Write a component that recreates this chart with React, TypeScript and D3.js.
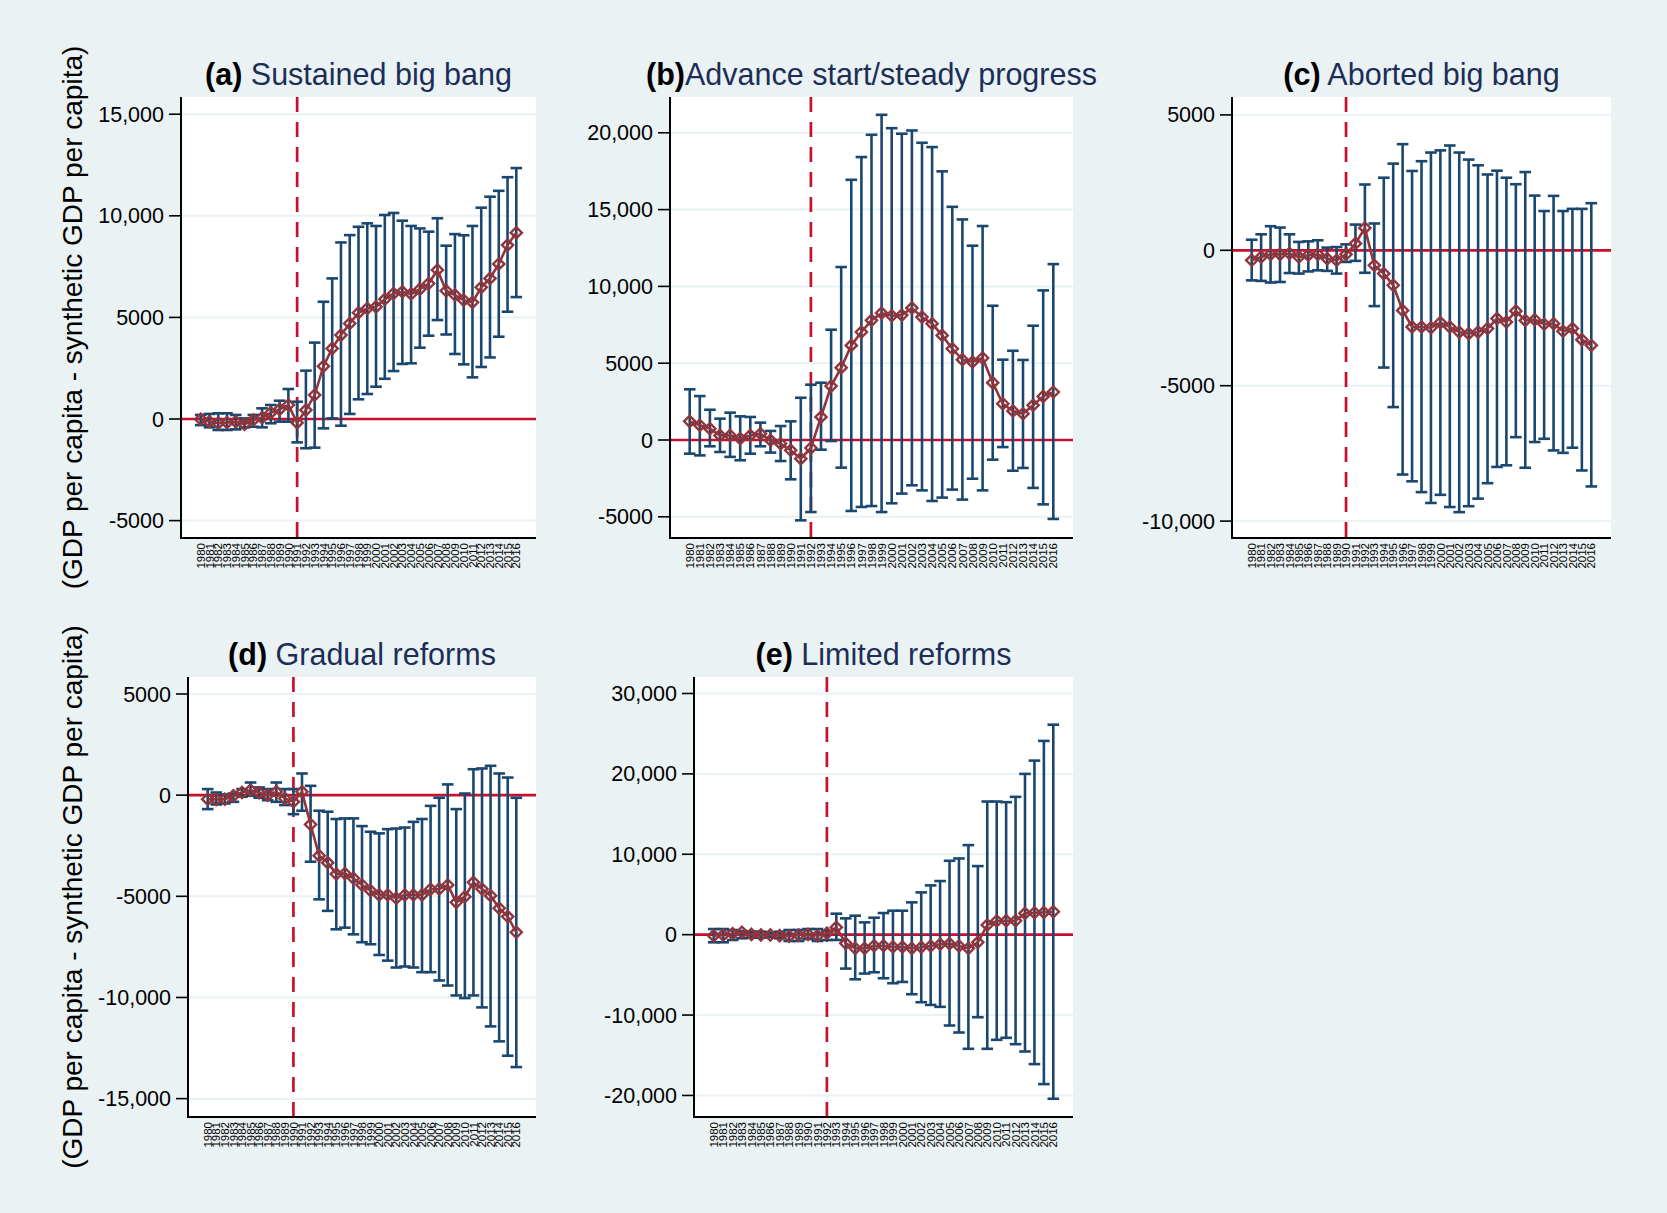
import * as d3 from 'd3';
import { useEffect, useRef } from 'react';

// years on the x axis
const years = [1980, 1981, 1982, 1983, 1984, 1985, 1986, 1987, 1988, 1989, 1990, 1991, 1992,
    1993, 1994, 1995, 1996, 1997, 1998, 1999, 2000, 2001, 2002, 2003, 2004, 2005, 2006, 2007,
    2008, 2009, 2010, 2011, 2012, 2013, 2014, 2015, 2016];

// (a) Sustained big bang
const aEst = [-15, -130, -210, -180, -130, -260, -50, 65, 310, 475, 690, -180, 440, 1180, 2600, 3475, 4130, 4700, 5230, 5440, 5520, 5890, 6180, 6260, 6150, 6390, 6670, 7330, 6310, 6100, 5850, 5740, 6480, 6920, 7630, 8560, 9170];
const aHi = [200, 250, 280, 280, 200, 30, 200, 525, 690, 900, 1475, 850, 2380, 3760, 5770, 6920, 8690, 9050, 9460, 9630, 9500, 10040, 10140, 9760, 9500, 9380, 9220, 9880, 8530, 9100, 9040, 9500, 10400, 10940, 11230, 11900, 12350];
const aLo = [-300, -410, -540, -540, -510, -410, -380, -410, -210, -130, -130, -1150, -1440, -1410, -460, 30, -330, 250, 970, 1230, 1590, 1980, 2360, 2710, 2740, 3510, 4100, 4870, 4160, 3200, 2690, 2050, 2560, 3030, 4050, 5280, 6000];

// (b) Advance start/steady progress
const bEst = [1215, 955, 740, 300, 300, 90, 300, 410, -20, -240, -670, -1215, -520, 1500, 3510, 4710, 6160, 7030, 7790, 8260, 8090, 8130, 8590, 8000, 7570, 6810, 5940, 5230, 5080, 5340, 3730, 2360, 1890, 1710, 2260, 2840, 3120];
const bHi = [3300, 2860, 1970, 1390, 1780, 1540, 1500, 1130, 590, 910, 1215, 2750, 3600, 3730, 7180, 11260, 16940, 18420, 19870, 21170, 20300, 19940, 20150, 19350, 19070, 17490, 15180, 14360, 12650, 13930, 8740, 5230, 5810, 5210, 7440, 9740, 11450];
const bLo = [-890, -1000, -410, -780, -1100, -1320, -890, -410, -820, -1370, -2560, -5230, -4690, -630, -65, -1800, -4620, -4360, -4300, -4690, -4120, -3490, -2950, -3280, -3970, -3750, -3230, -3880, -2520, -3280, -1280, -460, -2000, -1820, -3120, -4190, -5140];

// (c) Aborted big bang
const cEst = [-370, -250, -150, -150, -120, -250, -180, -150, -310, -370, -150, 250, 825, -555, -860, -1290, -2220, -2830, -2830, -2860, -2670, -2830, -3020, -3080, -3020, -2890, -2520, -2650, -2240, -2590, -2560, -2730, -2710, -2990, -2890, -3300, -3510];
const cHi = [390, 590, 890, 840, 590, 310, 330, 370, 100, 120, 220, 950, 2430, 990, 2680, 3200, 3920, 2930, 3290, 3610, 3690, 3870, 3610, 3350, 3140, 2800, 2940, 2680, 2440, 2890, 2020, 1450, 2010, 1450, 1530, 1530, 1740];
const cLo = [-1110, -1130, -1190, -1170, -840, -860, -780, -740, -760, -860, -430, -390, -830, -2060, -4330, -5790, -8280, -8530, -8930, -9330, -9030, -9480, -9670, -9450, -9170, -8600, -8000, -7940, -6900, -8030, -7080, -6960, -7390, -7480, -7290, -8130, -8720];

// (d) Gradual reforms
const dEst = [-200, -210, -200, -30, 130, 250, 115, 0, 165, -165, -330, 165, -1450, -2990, -3340, -3900, -3870, -4110, -4440, -4720, -4930, -4930, -5100, -4930, -4930, -4930, -4650, -4640, -4440, -5300, -5020, -4310, -4640, -4970, -5590, -6000, -6780];
const dHi = [300, 130, 30, 80, 300, 625, 380, 300, 625, 300, 300, 1070, 460, -770, -820, -1180, -1150, -1150, -1530, -1810, -1890, -1680, -1650, -1600, -1320, -1180, -530, -130, 530, -690, 80, 1280, 1320, 1450, 1070, 870, -130];
const dLo = [-690, -460, -410, -330, -80, -30, -130, -250, -330, -490, -940, -770, -3290, -5150, -5720, -6630, -6550, -6880, -7270, -7370, -7900, -8180, -8520, -8470, -8520, -8750, -8750, -9160, -9410, -9900, -10030, -9900, -10490, -11430, -12170, -12880, -13440];

// (e) Limited reforms
const eEst = [-120, -40, 120, 290, 40, -40, -40, -120, -200, -40, 40, -120, 170, 910, -1080, -1700, -1700, -1370, -1370, -1530, -1530, -1700, -1570, -1410, -1200, -1120, -1410, -1700, -950, 1200, 1700, 1740, 1740, 2650, 2730, 2770, 2860];
const eHi = [700, 700, 580, 450, 370, 370, 250, 370, 580, 580, 700, 700, 450, 2610, 2030, 2360, 1530, 2110, 2690, 2980, 2980, 4020, 5260, 6130, 6670, 9190, 9480, 11140, 8530, 16560, 16560, 16480, 17140, 20000, 21650, 24100, 26120];
const eLo = [-950, -950, -660, -450, -370, -370, -290, -450, -790, -790, -540, -790, -660, -660, -4220, -5550, -4840, -4680, -5420, -6040, -5880, -7410, -8400, -8740, -8980, -11300, -12170, -14200, -10270, -14200, -13080, -12830, -13620, -14530, -16100, -18590, -20410];

const aTicks = [-5000, 0, 5000, 10000, 15000];
const bTicks = [-5000, 0, 5000, 10000, 15000, 20000];
const cTicks = [-10000, -5000, 0, 5000];
const dTicks = [-15000, -10000, -5000, 0, 5000];
const eTicks = [-20000, -10000, 0, 10000, 20000, 30000];

const yTitle = '(GDP per capita - synthetic GDP per capita)';

interface Panel {
    tag: string;
    name: string;
    est: number[];
    lo: number[];
    hi: number[];
    ticks: number[];
    treat: number;
    box: [number, number, number, number]; // left, right, top, bottom
    dom: [number, number];
    yLabel: boolean;
}

const panels: Panel[] = [
    { tag: '(a)', name: ' Sustained big bang', est: aEst, lo: aLo, hi: aHi, ticks: aTicks, treat: 1991, box: [181, 536, 97, 538], dom: [-5856, 15847], yLabel: true },
    { tag: '(b)', name: 'Advance start/steady progress', est: bEst, lo: bLo, hi: bHi, ticks: bTicks, treat: 1992, box: [670, 1073, 97, 538], dom: [-6380, 22330], yLabel: false },
    { tag: '(c)', name: ' Aborted big bang', est: cEst, lo: cLo, hi: cHi, ticks: cTicks, treat: 1990, box: [1232, 1611, 97, 538], dom: [-10624, 5661], yLabel: false },
    { tag: '(d)', name: ' Gradual reforms', est: dEst, lo: dLo, hi: dHi, ticks: dTicks, treat: 1990, box: [188, 536, 677, 1117], dom: [-15908, 5839], yLabel: true },
    { tag: '(e)', name: ' Limited reforms', est: eEst, lo: eLo, hi: eHi, ticks: eTicks, treat: 1992, box: [694, 1073, 677, 1117], dom: [-22680, 32050], yLabel: false },
];

const BG = '#eaf2f3';
const NAVY = '#1a476f';
const MAROON = '#90353b';
const RED = '#c8102e';
const FONT = '"Liberation Sans", Arial, sans-serif';

const fmtTick = (v: number) =>
    Math.abs(v) >= 10000 ? (v < 0 ? '-' : '') + d3.format(',')(Math.abs(v)) : String(v);

const App = () => {
    const ref = useRef<SVGSVGElement | null>(null);

    useEffect(() => {
        if (!ref.current) return;
        const svg = d3.select(ref.current);
        svg.selectAll('*').remove();

        svg.append('rect').attr('width', 1667).attr('height', 1213).attr('fill', BG);

        panels.forEach(p => {
            const [x0, x1, y0, y1] = p.box;
            const g = svg.append('g');

            const x = d3.scaleLinear().domain([1980, 2016]).range([x0 + 19.7, x1 - 19.7]);
            const y = d3.scaleLinear().domain(p.dom).range([y1, y0]);

            // plot region
            g.append('rect').attr('x', x0).attr('y', y0).attr('width', x1 - x0).attr('height', y1 - y0).attr('fill', '#fff');

            // grid
            g.selectAll('.grid').data(p.ticks).enter().append('line')
                .attr('x1', x0).attr('x2', x1)
                .attr('y1', d => y(d)).attr('y2', d => y(d))
                .attr('stroke', BG).attr('stroke-width', 2);

            // reference lines
            g.append('line').attr('x1', x0).attr('x2', x1).attr('y1', y(0)).attr('y2', y(0))
                .attr('stroke', RED).attr('stroke-width', 2.7);
            g.append('line').attr('x1', x(p.treat)).attr('x2', x(p.treat)).attr('y1', y0).attr('y2', y1)
                .attr('stroke', RED).attr('stroke-width', 2.7).attr('stroke-dasharray', '15 10');

            // error bars
            const rows = years.map((yr, i) => ({ yr, est: p.est[i], lo: p.lo[i], hi: p.hi[i] }));
            const bars = g.append('g').attr('stroke', NAVY).attr('stroke-width', 2.6).attr('fill', 'none');
            rows.forEach(r => {
                const cx = x(r.yr);
                bars.append('line').attr('x1', cx).attr('x2', cx).attr('y1', y(r.lo)).attr('y2', y(r.hi));
                bars.append('line').attr('x1', cx - 5.8).attr('x2', cx + 5.8).attr('y1', y(r.lo)).attr('y2', y(r.lo));
                bars.append('line').attr('x1', cx - 5.8).attr('x2', cx + 5.8).attr('y1', y(r.hi)).attr('y2', y(r.hi));
            });

            // connected estimates
            const line = d3.line<typeof rows[0]>().x(d => x(d.yr)).y(d => y(d.est));
            g.append('path').attr('d', line(rows) as string)
                .attr('fill', 'none').attr('stroke', MAROON).attr('stroke-width', 2.6);

            const diamond = d3.symbol().type(d3.symbolDiamond2).size(80);
            g.selectAll('.pt').data(rows).enter().append('path')
                .attr('d', diamond() as string)
                .attr('transform', d => `translate(${x(d.yr)},${y(d.est)})`)
                .attr('fill', 'none').attr('stroke', MAROON).attr('stroke-width', 2.4);

            // axes
            g.append('line').attr('x1', x0).attr('x2', x0).attr('y1', y0).attr('y2', y1 + 1)
                .attr('stroke', '#000').attr('stroke-width', 2);
            g.append('line').attr('x1', x0 - 1).attr('x2', x1).attr('y1', y1).attr('y2', y1)
                .attr('stroke', '#000').attr('stroke-width', 2);

            g.selectAll('.tk').data(p.ticks).enter().append('line')
                .attr('x1', x0 - 12).attr('x2', x0)
                .attr('y1', d => y(d)).attr('y2', d => y(d))
                .attr('stroke', '#000').attr('stroke-width', 1.6);
            g.selectAll('.tl').data(p.ticks).enter().append('text')
                .attr('x', x0 - 17).attr('y', d => y(d)).attr('dy', '0.35em')
                .attr('text-anchor', 'end')
                .style('font-family', FONT).style('font-size', '21.5px').attr('fill', '#000')
                .text(d => fmtTick(d));

            g.selectAll('.yr').data(years).enter().append('text')
                .attr('transform', d => `translate(${x(d)},${y1 + 5}) rotate(-90)`)
                .attr('dy', '0.36em')
                .attr('text-anchor', 'end')
                .style('font-family', FONT).style('font-size', '11.5px').attr('fill', '#000')
                .text(d => String(d));

            // title
            const t = g.append('text')
                .attr('x', (x0 + x1) / 2).attr('y', y0 - 12)
                .attr('text-anchor', 'middle')
                .style('font-family', FONT).style('font-size', '30.5px');
            t.append('tspan').attr('font-weight', 'bold').attr('fill', '#000').text(p.tag);
            t.append('tspan').attr('fill', '#1c2e58').text(p.name);

            if (p.yLabel) {
                g.append('text')
                    .attr('transform', `translate(82,${(y0 + y1) / 2}) rotate(-90)`)
                    .attr('text-anchor', 'middle')
                    .style('font-family', FONT).style('font-size', '28px').attr('fill', '#000')
                    .text(yTitle);
            }
        });
    }, []);

    return (
        <div style={{ position: 'absolute', left: 0, top: 0 }}>
            <svg ref={ref} width={1667} height={1213} style={{ display: 'block' }} />
        </div>
    );
};

export default App;
